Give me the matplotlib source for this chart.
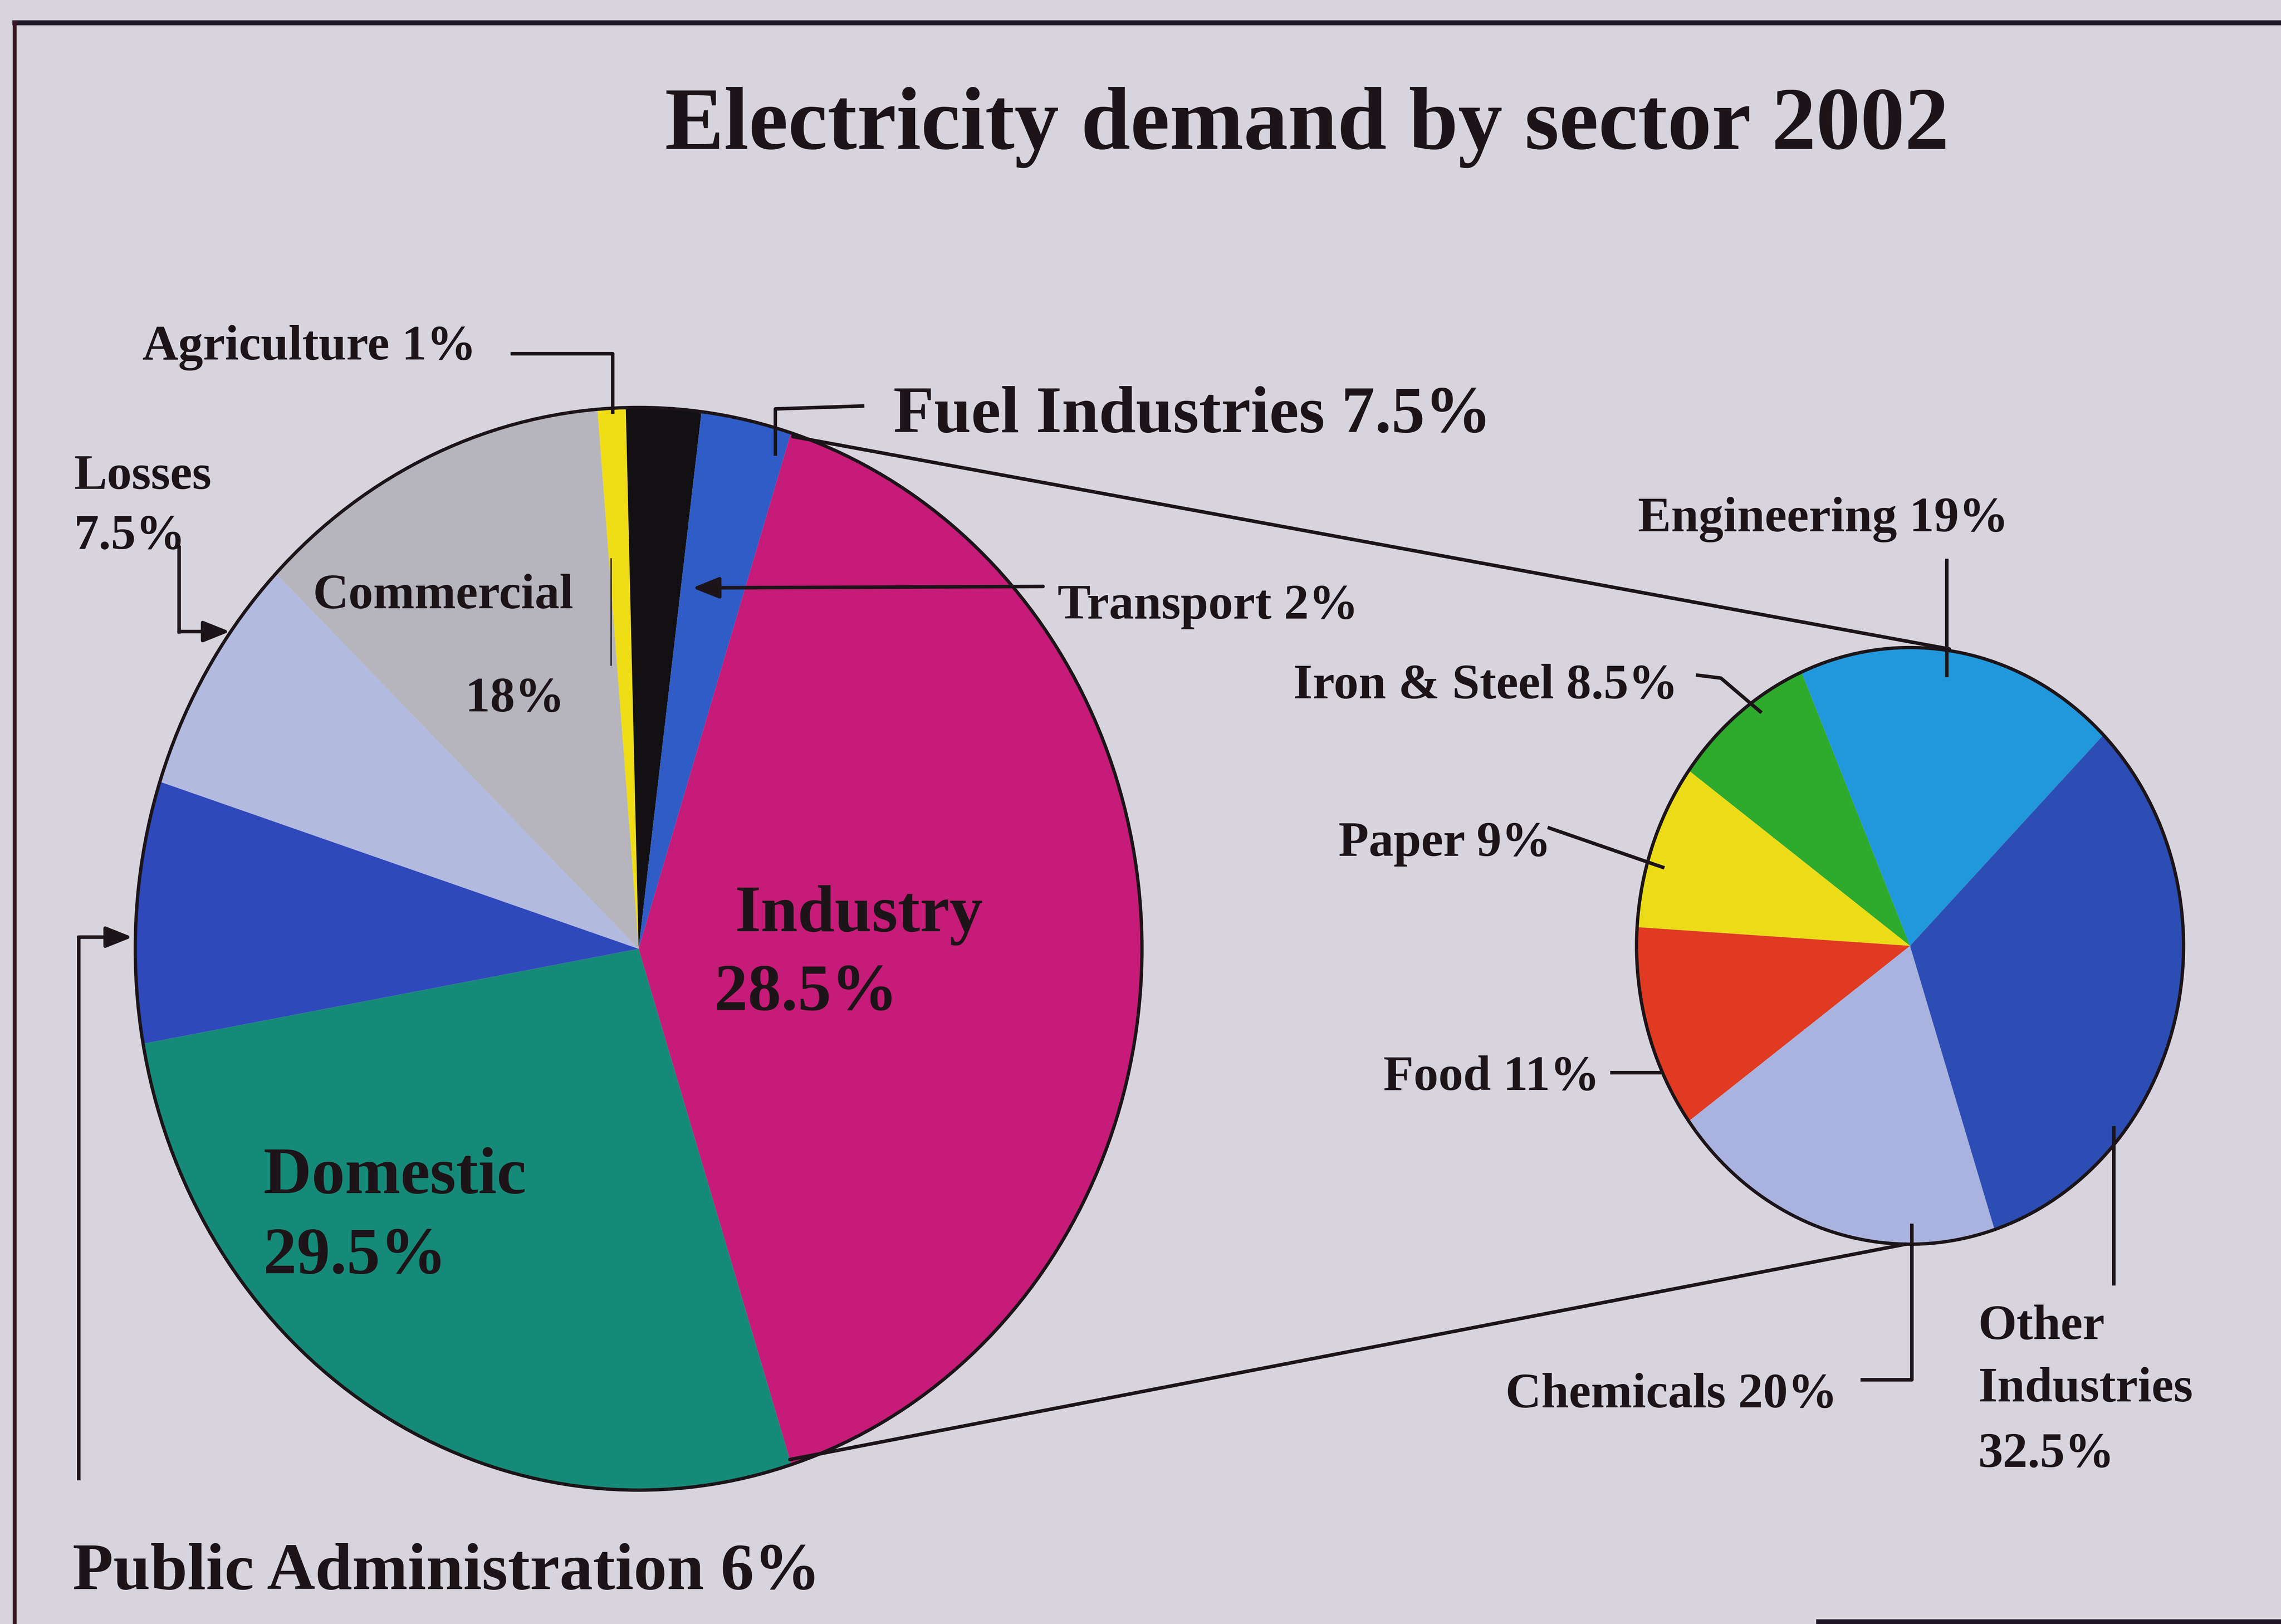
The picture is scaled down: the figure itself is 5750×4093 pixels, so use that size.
import matplotlib.pyplot as plt
from matplotlib.patches import Circle

plt.rcParams['font.family'] = ['Liberation Serif', 'DejaVu Serif']
plt.rcParams['font.weight'] = 'bold'

# slide is laid out in a 1568 x 1116 grid (y down), saved at 5750 x 4093 px
W, H = 1568, 1116
BG = '#d7d4de'
INK = '#1c1418'

# --- main pie, clockwise from the top ---
# shares are the slice sizes as drawn on the slide (it is not drawn to scale),
# the printed percentages are kept separately
sectors = ['Agriculture', 'Transport', 'Fuel Industries', 'Industry',
           'Domestic', 'Public Administration', 'Losses', 'Commercial']
sector_share = [0.9, 2.4, 2.9, 40.2, 27.1, 7.8, 7.2, 11.5]
sector_pct = ['1%', '2%', '7.5%', '28.5%', '29.5%', '6%', '7.5%', '18%']
sector_colors = ['#efdd16', '#121012', '#2f5cc6', '#c61b78',
                 '#168a78', '#2f48bc', '#b2badf', '#b6b5bd']

# --- industry breakdown, anticlockwise ---
industries = ['Engineering', 'Iron & Steel', 'Paper', 'Food',
              'Chemicals', 'Other Industries']
industry_share = [19, 8.5, 9, 11, 20, 32.5]
industry_pct = ['19%', '8.5%', '9%', '11%', '20%', '32.5%']
industry_colors = ['#2298dc', '#2eaa2c', '#ecdc18', '#e03a22',
                   '#aab3df', '#2c4db4']

fig = plt.figure(figsize=(28.75, 20.465), dpi=200, facecolor=BG)


def pie_axes(cx, cy, rx, ry):
    ax = fig.add_axes([(cx - rx) / W, (H - cy - ry) / H, 2 * rx / W, 2 * ry / H],
                      zorder=1)
    return ax


def draw_pie(ax, shares, colors, start, ccw):
    ax.pie(shares, colors=colors, startangle=start, counterclock=ccw,
           radius=1, wedgeprops=dict(linewidth=0))
    ax.set_aspect('auto')
    ax.set_xlim(-1, 1)
    ax.set_ylim(-1, 1)
    ax.axis('off')
    ax.add_patch(Circle((0, 0), 1, fill=False, ec=INK, lw=3, clip_on=False))


ax_main = pie_axes(439, 652, 346, 372)
draw_pie(ax_main, sector_share, sector_colors, 94.7, False)

ax_ind = pie_axes(1313, 650, 188, 205)
draw_pie(ax_ind, industry_share, industry_colors, 45, True)

# overlay for text, leaders and frame
ax = fig.add_axes([0, 0, 1, 1], zorder=3)
ax.set_xlim(0, W)
ax.set_ylim(H, 0)
ax.axis('off')

LW = 3.2
TITLE, BIG, SMALL = 80.5, 60.5, 45

# slide frame (cut off on the right and most of the bottom)
ax.plot([10, W], [15.5, 15.5], color='#1e1626', lw=4.5, clip_on=False)
ax.plot([10, 10], [15.5, H], color='#3a1420', lw=3.5, clip_on=False)
ax.plot([1250, W], [1114.5, 1114.5], color='#1e1626', lw=4.5, clip_on=False)

ax.text(457, 102, 'Electricity demand by sector 2002', fontsize=TITLE,
        color=INK, ha='left', va='baseline')

# connector lines between the two pies
ax.plot([545, 1340], [300, 446], color=INK, lw=LW, solid_capstyle='round')
ax.plot([543, 1310], [1003, 855], color=INK, lw=LW, solid_capstyle='round')

leaders = [
    [(352, 243), (421, 243), (421, 283)],
    [(593, 279), (533, 281), (533, 312)],
    [(123, 376), (123, 434)],
    [(54, 1016), (54, 644)],
    [(1338, 385), (1338, 464)],
    [(1167, 464), (1183, 466), (1210, 489)],
    [(1065, 569), (1143, 596)],
    [(1108, 737), (1141, 737)],
    [(1280, 948), (1314, 948), (1314, 842)],
    [(1453, 775), (1453, 882)],
]
for pts in leaders:
    xs, ys = zip(*pts)
    ax.plot(xs, ys, color=INK, lw=LW)
ax.plot([420, 420], [384, 457], color=INK, lw=1.2)

arrows = [((717, 403), (476, 404)), ((123, 434), (158, 434)), ((54, 644), (91, 644))]
for start, tip in arrows:
    ax.annotate('', xy=tip, xytext=start,
                arrowprops=dict(arrowstyle='-|>,head_length=0.6,head_width=0.24',
                                mutation_scale=34, lw=LW, color=INK,
                                shrinkA=0, shrinkB=0))

# labels: (text, x, baseline, size)
labels = [
    (f'{sectors[0]} {sector_pct[0]}', 98, 247, SMALL),
    (f'{sectors[1]} {sector_pct[1]}', 727, 425, SMALL),
    (f'{sectors[2]} {sector_pct[2]}', 614, 297, BIG),
    (sectors[3], 505, 640, BIG),
    (sector_pct[3], 491, 694, BIG),
    (sectors[4], 181, 820, BIG),
    (sector_pct[4], 181, 875, BIG),
    (f'{sectors[5]} {sector_pct[5]}', 50, 1092, BIG),
    (sectors[6], 51, 336, SMALL),
    (sector_pct[6], 51, 377, SMALL),
    (sectors[7], 215, 418, SMALL),
    (sector_pct[7], 320, 489, SMALL),
    (f'{industries[0]} {industry_pct[0]}', 1126, 365, SMALL),
    (f'{industries[1]} {industry_pct[1]}', 889, 480, SMALL),
    (f'{industries[2]} {industry_pct[2]}', 920, 588, SMALL),
    (f'{industries[3]} {industry_pct[3]}', 951, 749, SMALL),
    (f'{industries[4]} {industry_pct[4]}', 1035, 967, SMALL),
    ('Other', 1360, 920, SMALL),
    ('Industries', 1360, 963, SMALL),
    (industry_pct[5], 1360, 1008, SMALL),
]
for txt, x, y, size in labels:
    ax.text(x, y, txt, fontsize=size, color=INK, ha='left', va='baseline')

fig.savefig('out.png', dpi=200, facecolor=BG)
